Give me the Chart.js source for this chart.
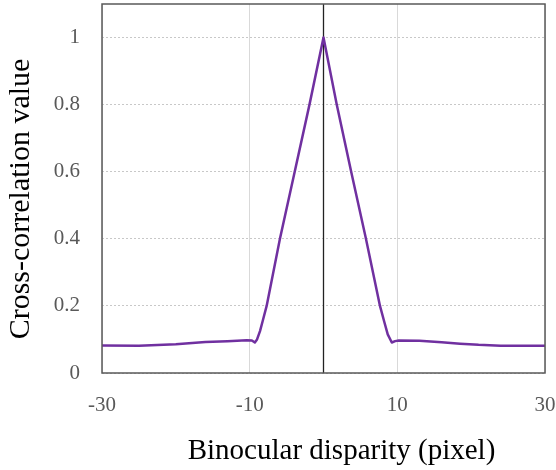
<!DOCTYPE html>
<html><head><meta charset="utf-8">
<script src="https://cdn.jsdelivr.net/npm/chart.js@4"></script>
<style>html,body{margin:0;padding:0;background:#fff}#wrap{width:556px;height:470px}</style>
</head><body><div id="wrap"><canvas id="c" width="556" height="470"></canvas></div>
<script>
const disparity = [-30,-25,-20,-16,-13,-10.4,-9.7,-9.3,-9.0,-8.6,-8.2,-7.7,-5.9,-3.9,-1.9,0,1.8,3.75,5.75,7.65,8.2,8.7,9.25,9.7,10.2,13,16,18.5,21,24,30];
const correlation = [0.082,0.081,0.086,0.0925,0.095,0.0975,0.097,0.091,0.100,0.125,0.158,0.2,0.4,0.6,0.8,1.0,0.8,0.6,0.4,0.2,0.155,0.115,0.091,0.095,0.097,0.096,0.092,0.0875,0.084,0.0815,0.0815];
const xTicks = [-30,-10,10,30];
const yTicks = [0,0.2,0.4,0.6,0.8,1];
const yMax = 1.1;
const zeroLineX = [0,0];
const zeroLineY = [0,yMax];
const xTitle = 'Binocular disparity (pixel)';
const yTitle = 'Cross-correlation value';

const frame = {id:'frame',afterDatasetsDraw(ch){const a=ch.chartArea,c=ch.ctx;c.save();c.strokeStyle='#595959';c.lineWidth=1.5;c.strokeRect(a.left,a.top,a.right-a.left,a.bottom-a.top);c.restore();}};
const titles = {id:'titles',afterDraw(ch){const a=ch.chartArea,c=ch.ctx;c.save();c.fillStyle='#000';c.textAlign='center';
  c.font='29px "Liberation Serif"';c.textBaseline='alphabetic';c.fillText(xTitle,(a.left+a.right)/2+18,459);
  c.translate(21,199);c.rotate(-Math.PI/2);c.font='30px "Liberation Serif"';c.textBaseline='middle';c.fillText(yTitle,0,0);
  c.restore();}};

new Chart(document.getElementById('c'),{
  type:'scatter',
  data:{datasets:[
    {data:zeroLineX.map((x,i)=>({x,y:zeroLineY[i]})),showLine:true,borderColor:'#222',borderWidth:1.3,pointRadius:0,order:2},
    {data:disparity.map((x,i)=>({x,y:correlation[i]})),showLine:true,borderColor:'#7030A0',borderWidth:2.5,pointRadius:0,tension:0,borderJoinStyle:'round',order:1}
  ]},
  plugins:[frame,titles],
  options:{
    responsive:false,animation:false,
    layout:{padding:{top:4,right:0,left:0,bottom:0}},
    plugins:{legend:{display:false},tooltip:{enabled:false}},
    scales:{
      x:{type:'linear',min:-30,max:30,
        afterBuildTicks:s=>{s.ticks=xTicks.map(v=>({value:v}));},
        afterFit:s=>{s.height=97;s.paddingLeft=0;s.paddingRight=11;},
        ticks:{color:'#595959',font:{family:'Liberation Serif',size:21},padding:20,maxRotation:0,callback:v=>String(v)},
        grid:{color:'#d9d9d9',lineWidth:1,drawTicks:false},
        border:{display:false},
        title:{display:false,text:xTitle}},
      y:{min:0,max:yMax,
        afterBuildTicks:s=>{s.ticks=yTicks.concat([yMax]).map(v=>({value:v}));},
        afterFit:s=>{s.width=102;s.paddingTop=0;s.paddingBottom=0;},
        ticks:{color:'#595959',font:{family:'Liberation Serif',size:21},padding:22,callback:v=>v>1.05?null:String(v)},
        grid:{color:'#c8c8c8',lineWidth:1,drawTicks:false},
        border:{display:false,dash:[2,2]},
        title:{display:false,text:yTitle}}
    }
  }
});
</script></body></html>
